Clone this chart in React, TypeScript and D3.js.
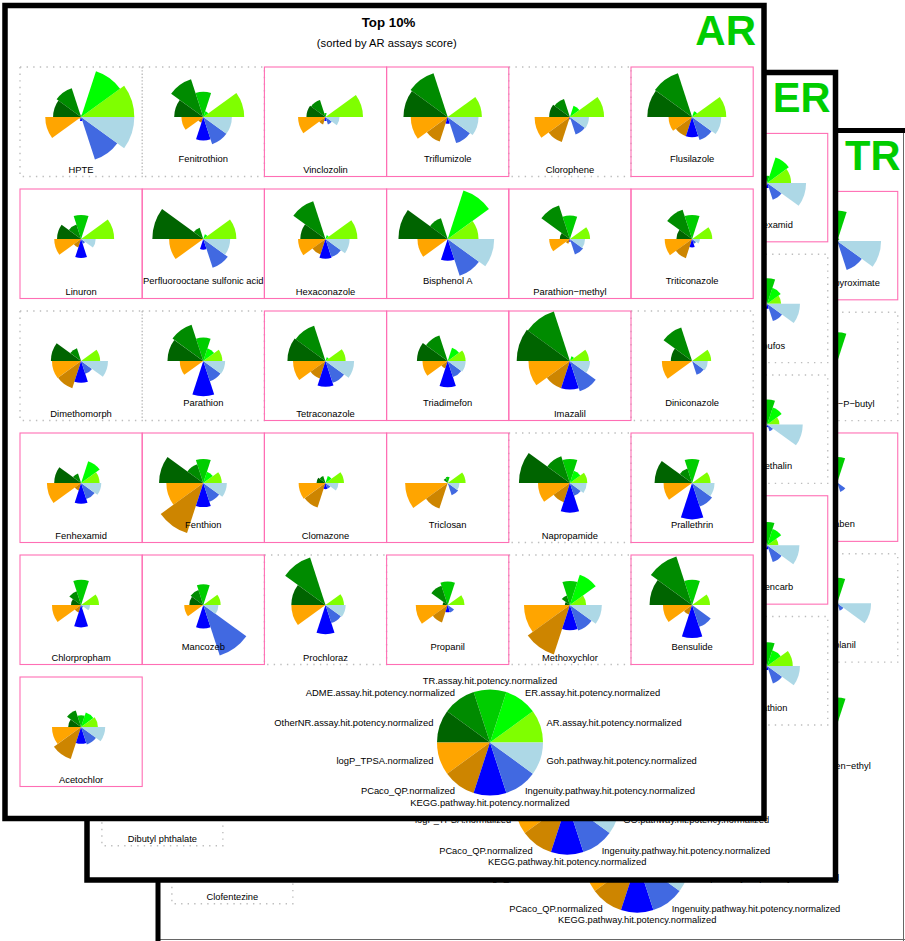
import React from 'react';
import * as d3 from 'd3';

// ---- slice definitions (counter-clockwise from 3 o'clock) ----
const sliceColors = ['#7FFF00', '#00FF00', '#00CD00', '#008B00', '#006400', '#FFA500', '#CD8500', '#0000FF', '#4169E1', '#ADD8E6'];
const arSliceLabels = [
  'AR.assay.hit.potency.normalized', 'ER.assay.hit.potency.normalized', 'TR.assay.hit.potency.normalized',
  'ADME.assay.hit.potency.normalized', 'OtherNR.assay.hit.potency.normalized', 'logP_TPSA.normalized',
  'PCaco_QP.normalized', 'KEGG.pathway.hit.potency.normalized', 'Ingenuity.pathway.hit.potency.normalized',
  'Goh.pathway.hit.potency.normalized',
];
const erTrSliceLabels = [
  'AR.assay.hit.potency.normalized', 'ER.assay.hit.potency.normalized', 'TR.assay.hit.potency.normalized',
  'ADME.assay.hit.potency.normalized', 'OtherNR.assay.hit.potency.normalized', 'logP_TPSA.normalized',
  'PCaco_QP.normalized', 'KEGG.pathway.hit.potency.normalized', 'Ingenuity.pathway.hit.potency.normalized',
  'GO.pathway.hit.potency.normalized',
];

// ---- AR panel ----
const arNames = ['HPTE', 'Fenitrothion', 'Vinclozolin', 'Triflumizole', 'Clorophene', 'Flusilazole',
  'Linuron', 'Perfluorooctane sulfonic acid', 'Hexaconazole', 'Bisphenol A', 'Parathion\u2212methyl', 'Triticonazole',
  'Dimethomorph', 'Parathion', 'Tetraconazole', 'Triadimefon', 'Imazalil', 'Diniconazole',
  'Fenhexamid', 'Fenthion', 'Clomazone', 'Triclosan', 'Napropamide', 'Prallethrin',
  'Chlorpropham', 'Mancozeb', 'Prochloraz', 'Propanil', 'Methoxychlor', 'Bensulide',
  'Acetochlor'];
const arRanks = d3.range(31);
const arBoxes = ['d', 'd', 'p', 'p', 'd', 'p',
  'p', 'p', 'p', 'p', 'p', 'p',
  'd', 'd', 'p', 'p', 'p', 'd',
  'p', 'p', 'p', 'p', 'd', 'p',
  'p', 'p', 'd', 'p', 'd', 'p',
  'p'];
// [AR, ER, TR, ADME, OtherNR, logP, PCaco, KEGG, Ingenuity, Goh]
const arScores: (number | null)[][] = [
  [0.95, 0.86, 0.04, 0.54, 0.50, 0.64, 0.04, 0.07, 0.80, 0.95],
  [0.73, 0.11, 0.45, 0.71, 0.52, 0.39, 0.11, 0.42, 0.51, 0.51],
  [0.67, 0.00, 0.07, 0.32, 0.34, 0.49, 0.14, 0.07, 0.14, 0.25],
  [0.61, 0.00, 0.00, 0.82, 0.79, 0.66, 0.46, 0.12, 0.49, 0.55],
  [0.61, 0.21, 0.00, 0.34, 0.37, 0.63, 0.47, 0.04, 0.33, 0.34],
  [0.61, 0.11, 0.00, 0.82, 0.80, 0.42, 0.36, 0.36, 0.43, 0.52],
  [0.59, 0.00, 0.43, 0.27, 0.43, 0.48, 0.16, 0.34, 0.09, 0.26],
  [0.59, 0.09, 0.00, 0.21, 0.91, 0.61, 0.00, 0.19, 0.54, 0.48],
  [0.57, 0.07, 0.00, 0.71, 0.45, 0.49, 0.29, 0.35, 0.34, 0.43],
  [0.55, 0.91, 0.00, 0.39, 0.88, 0.54, 0.00, 0.39, 0.69, 0.83],
  [0.36, 0.00, 0.42, 0.63, 0.18, 0.37, 0.09, 0.05, 0.29, 0.27],
  [0.36, 0.00, 0.43, 0.55, 0.28, 0.49, 0.36, 0.15, 0.09, 0.14],
  [0.34, 0.00, 0.00, 0.24, 0.54, 0.52, 0.51, 0.39, 0.24, 0.48],
  [0.34, 0.24, 0.42, 0.68, 0.64, 0.42, 0.00, 0.63, 0.38, 0.39],
  [0.36, 0.07, 0.00, 0.66, 0.68, 0.58, 0.33, 0.46, 0.41, 0.51],
  [0.32, 0.25, 0.00, 0.48, 0.55, 0.45, 0.14, 0.47, 0.30, 0.32],
  [0.34, 0.09, 0.00, 0.93, 0.95, 0.74, 0.51, 0.51, 0.57, 0.36],
  [0.34, 0.00, 0.00, 0.63, 0.38, 0.54, 0.00, 0.00, 0.26, 0.28],
  [0.33, 0.41, 0.00, 0.18, 0.48, 0.61, 0.14, 0.37, 0.30, 0.36],
  [0.33, 0.21, 0.43, 0.35, 0.79, 0.66, 0.94, 0.43, 0.35, 0.42],
  [0.33, 0.13, 0.00, 0.13, 0.16, 0.48, 0.46, 0.11, 0.11, 0.23],
  [0.32, 0.00, 0.11, 0.09, 0.00, 0.76, 0.48, 0.00, 0.23, 0.21],
  [0.31, 0.23, 0.43, 0.50, 0.91, 0.57, 0.36, 0.53, 0.24, 0.30],
  [0.33, 0.00, 0.43, 0.27, 0.67, 0.51, 0.00, 0.65, 0.44, 0.40],
  [0.32, 0.00, 0.45, 0.26, 0.18, 0.52, 0.14, 0.40, 0.05, 0.16],
  [0.31, 0.00, 0.37, 0.28, 0.25, 0.34, 0.00, 0.42, 0.95, 0.27],
  [0.33, 0.00, 0.00, 0.89, 0.61, 0.61, 0.00, 0.52, 0.34, 0.36],
  [0.30, 0.00, 0.42, 0.36, 0.09, 0.57, 0.33, 0.13, 0.14, 0.00],
  [0.29, 0.57, 0.43, 0.18, 0.09, 0.82, 0.93, 0.45, 0.48, 0.57],
  [0.32, 0.00, 0.45, 0.91, 0.76, 0.52, 0.18, 0.59, 0.41, 0.00],
  [0.30, 0.27, 0.21, 0.31, 0.23, 0.52, 0.60, 0.30, 0.33, 0.43],
];

// ---- ER panel (only the cells that show past the AR sheet; null = hidden) ----
const erNames = ['Fenhexamid', 'Terbufos', 'Bromethalin', 'Thiobencarb', 'Malathion', 'Dibutyl phthalate'];
const erRanks = [5, 11, 17, 23, 29, 30];
const erBoxes = ['p', 'd', 'd', 'p', 'd', 'd'];
const erScores: (number | null)[][] = [
  [0.43, 0.48, 0.13, null, null, null, null, 0.09, 0.32, 0.70],
  [0.25, 0.30, 0.46, null, null, null, null, 0.09, 0.33, 0.59],
  [0.22, 0.32, 0.45, null, null, null, null, 0.05, 0.13, 0.64],
  [0.20, 0.31, 0.42, null, null, null, null, 0.07, 0.32, 0.58],
  [0.46, 0.30, 0.43, null, null, null, null, 0.07, 0.33, 0.59],
  [null, null, null, null, null, null, null, null, null, null],
];

// ---- TR panel ----
const trNames = ['(Z,E)-Fenpyroximate', 'Fluazifop\u2212P\u2212butyl', 'Paraben', 'Flutolanil', 'Pyraflufen\u2212ethyl', 'Clofentezine'];
const trRanks = [5, 11, 17, 23, 29, 30];
const trBoxes = ['p', 'd', 'p', 'd', 'n', 'd'];
const trScores: (number | null)[][] = [
  [0.00, 0.05, 0.55, null, null, null, null, 0.00, 0.55, 0.79],
  [0.00, 0.00, 0.53, null, null, null, null, 0.00, 0.00, 0.00],
  [0.00, 0.00, 0.46, null, null, null, null, 0.05, 0.18, 0.00],
  [0.00, 0.00, 0.46, null, null, null, null, 0.00, 0.14, 0.61],
  [0.00, 0.00, 0.48, null, null, null, null, 0.00, 0.00, 0.00],
  [null, null, null, null, null, null, null, null, null, null],
];

// ---- layout constants ----
const FONT = '"Liberation Sans", Arial, Helvetica, sans-serif';
const NCOL = 6;
const BOX_X0 = 12, BOX_W = 122.2, BOX_Y0 = 59, ROW_H = 122, BOX_H = 109.5;
const PIE_DY = 50, R_MAX = 56;
const LEG_CX = 482, LEG_CY = 734.5, LEG_R = 53;
const LEG_LX = 59.5, LEG_LY = 61;
const LAB_LOW = 105.7, LAB_HIGH = 95.3;

const rScale = d3.scaleLinear().domain([0, 1]).range([0, R_MAX]);
const aScale = d3.scaleLinear().domain([0, 10]).range([Math.PI / 2, Math.PI / 2 - 2 * Math.PI]);
const arcGen = d3.arc<any>();

function slicePath(i: number, r: number) {
  return arcGen({ innerRadius: 0, outerRadius: r, startAngle: aScale(i + 1), endAngle: aScale(i) }) as string;
}

function Sheet(props: { names: string[]; ranks: number[]; boxes: string[]; scores: (number | null)[][]; labels: string[]; tag: string; front: boolean }) {
  const { names, ranks, boxes, scores, labels, tag, front } = props;
  const cells = names.map((n, k) => {
    const rank = ranks[k];
    const col = rank % NCOL;
    const row = Math.floor(rank / NCOL);
    const bx = BOX_X0 + col * BOX_W;
    const by = BOX_Y0 + row * ROW_H;
    return { name: n, col, row, bx, by, cx: bx + BOX_W / 2, cy: by + PIE_DY, box: boxes[k], vals: scores[k] };
  });
  return (
    <g>
      {front ? (
        <g>
          <text x={380.5} y={18.8} textAnchor="middle" fontFamily={FONT} fontWeight="bold" fontSize={13.3} fill="#000">Top 10%</text>
          <text x={378.8} y={38.5} textAnchor="middle" fontFamily={FONT} fontSize={11.2} fill="#000">{`(sorted by ${tag} assays score)`}</text>
        </g>
      ) : null}
      <text x={748} y={37} textAnchor="end" fontFamily={FONT} fontWeight="bold" fontSize={42} fill="#00CD00">{tag}</text>
      {cells.filter(c => c.box === 'd').map((c, k) => (
        <rect key={'d' + k} x={c.bx} y={c.by} width={BOX_W} height={BOX_H} fill="none" stroke="#bdbdbd" strokeWidth={1.4} strokeDasharray="1.4 5.2" />
      ))}
      {cells.filter(c => c.box === 'p').map((c, k) => (
        <rect key={'p' + k} x={c.bx} y={c.by} width={BOX_W} height={BOX_H} fill="none" stroke="#ff6eb4" strokeWidth={1.1} />
      ))}
      {cells.map((c, k) => (
        <g key={'pie' + k} transform={`translate(${c.cx},${c.cy})`}>
          {c.vals.map((v, i) => (v != null && v > 0 ? <path key={i} d={slicePath(i, rScale(v))} fill={sliceColors[i]} /> : null))}
        </g>
      ))}
      {cells.map((c, k) => (
        <text key={'lab' + k} x={c.cx} y={c.by + (c.col % 2 === 0 ? LAB_LOW : LAB_HIGH)} textAnchor="middle" fontFamily={FONT} fontSize={9.4} fill="#000">{c.name}</text>
      ))}
      <g transform={`translate(${LEG_CX},${LEG_CY})`}>
        {labels.map((l, i) => <path key={i} d={slicePath(i, LEG_R)} fill={sliceColors[i]} />)}
        {labels.map((l, i) => {
          const a = ((i + 0.5) * 36 * Math.PI) / 180;
          const cs = Math.cos(a);
          const x = LEG_LX * cs;
          const y = -LEG_LY * Math.sin(a);
          const anchor = cs > 0.01 ? 'start' : cs < -0.01 ? 'end' : 'middle';
          return <text key={'t' + i} x={x} y={y} dy="0.27em" textAnchor={anchor} fontFamily={FONT} fontSize={9.4} fill="#000">{l}</text>;
        })}
      </g>
    </g>
  );
}

export default function App() {
  return (
    <svg width={905} height={941} style={{ position: 'absolute', left: 0, top: 0, background: '#fff' }}>
      <rect x={0} y={0} width={905} height={941} fill="#fff" />
      {/* TR sheet (back) */}
      <rect x={158} y={130.5} width={760} height={820} fill="#fff" />
      <g transform="translate(160,133) scale(0.99)">
        <Sheet names={trNames} ranks={trRanks} boxes={trBoxes} scores={trScores} labels={erTrSliceLabels} tag="TR" front={false} />
      </g>
      <line x1={903.5} y1={133} x2={903.5} y2={941} stroke="#666" strokeWidth={1} />
      <line x1={160} y1={939.5} x2={905} y2={939.5} stroke="#666" strokeWidth={1} />
      <path d="M158,941 L158,130.5 L905,130.5" fill="none" stroke="#000" strokeWidth={5} />
      {/* ER sheet (middle) */}
      <rect x={87} y={72.5} width={748.5} height={807.5} fill="#fff" />
      <g transform="translate(90,75) scale(0.99)">
        <Sheet names={erNames} ranks={erRanks} boxes={erBoxes} scores={erScores} labels={erTrSliceLabels} tag="ER" front={false} />
      </g>
      <rect x={87} y={72.5} width={748.5} height={807.5} fill="none" stroke="#000" strokeWidth={5.5} />
      {/* AR sheet (front) */}
      <rect x={5} y={5.5} width={759} height={813} fill="#fff" />
      <g transform="translate(8,8)">
        <Sheet names={arNames} ranks={arRanks} boxes={arBoxes} scores={arScores} labels={arSliceLabels} tag="AR" front={true} />
      </g>
      <rect x={5} y={5.5} width={759} height={813} fill="none" stroke="#000" strokeWidth={5.5} />
    </svg>
  );
}
